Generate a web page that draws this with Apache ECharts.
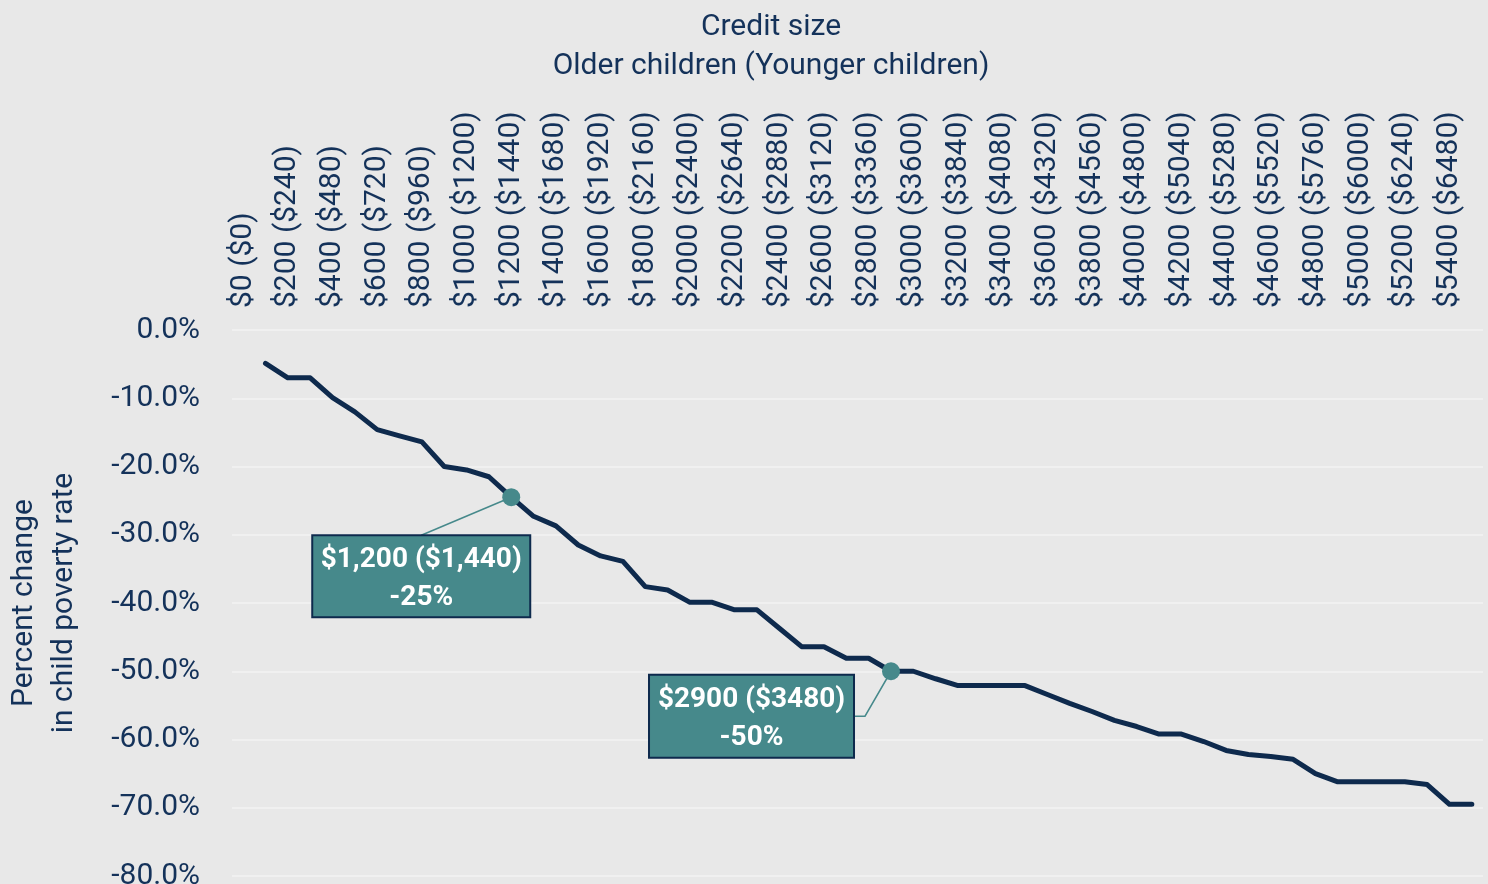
<!DOCTYPE html>
<html>
<head>
<meta charset="utf-8">
<script src="https://cdn.jsdelivr.net/npm/echarts@6/dist/echarts.min.js"></script>
<style>
html,body{margin:0;padding:0;background:#e8e8e8;}
#chart{width:1488px;height:884px;}
</style>
</head>
<body>
<div id="chart"></div>
<script>
// ---- DATA ----
const categories = [
  "$0 ($0)","$100 ($120)","$200 ($240)","$300 ($360)","$400 ($480)","$500 ($600)",
  "$600 ($720)","$700 ($840)","$800 ($960)","$900 ($1080)","$1000 ($1200)","$1100 ($1320)",
  "$1200 ($1440)","$1300 ($1560)","$1400 ($1680)","$1500 ($1800)","$1600 ($1920)","$1700 ($2040)",
  "$1800 ($2160)","$1900 ($2280)","$2000 ($2400)","$2100 ($2520)","$2200 ($2640)","$2300 ($2760)",
  "$2400 ($2880)","$2500 ($3000)","$2600 ($3120)","$2700 ($3240)","$2800 ($3360)","$2900 ($3480)",
  "$3000 ($3600)","$3100 ($3720)","$3200 ($3840)","$3300 ($3960)","$3400 ($4080)","$3500 ($4200)",
  "$3600 ($4320)","$3700 ($4440)","$3800 ($4560)","$3900 ($4680)","$4000 ($4800)","$4100 ($4920)",
  "$4200 ($5040)","$4300 ($5160)","$4400 ($5280)","$4500 ($5400)","$4600 ($5520)","$4700 ($5640)",
  "$4800 ($5760)","$4900 ($5880)","$5000 ($6000)","$5100 ($6120)","$5200 ($6240)","$5300 ($6360)",
  "$5400 ($6480)","$5500 ($6600)"
];
// percent change in child poverty rate
const povertyChange = [
  null, -4.9, -7.0, -7.0, -9.9, -12.0, -14.6, -15.5, -16.4, -20.0,
  -20.5, -21.5, -24.5, -27.3, -28.7, -31.5, -33.1, -33.9, -37.6, -38.1,
  -39.9, -39.9, -41.0, -41.0, -43.7, -46.4, -46.4, -48.1, -48.1, -50.0,
  -50.0, -51.1, -52.1, -52.1, -52.1, -52.1, -53.4, -54.7, -55.9, -57.2,
  -58.1, -59.2, -59.2, -60.3, -61.6, -62.2, -62.5, -62.9, -65.0, -66.2,
  -66.2, -66.2, -66.2, -66.6, -69.5, -69.5
];
const yMin = -80, yMax = 0, yStep = 10;
const titleLines = ["Credit size", "Older children (Younger children)"];
const yAxisTitle = "Percent change\nin child poverty rate";
const annotations = [
  {category: "$1200 ($1440)", line1: "$1,200 ($1,440)", line2: "-25%"},
  {category: "$2900 ($3480)", line1: "$2900 ($3480)", line2: "-50%"}
];

// ---- STYLE / LAYOUT ----
const NAVY = "#14325a";
const LINE = "#0e2a4d";
const TEAL = "#46898b";
const FONT = "Roboto";
const FS = 30;
const annoLayout = [
  {dx: -90, dy: 79, w: 218, h: 82, leader: [[-90, 38]]},
  {dx: -139.5, dy: 45, w: 205, h: 83, leader: [[-26, 45], [-37, 45]]}
];

const annoData = annotations.map(a => {
  const i = categories.indexOf(a.category);
  return [i, povertyChange[i]];
});

function renderAnno(params, api) {
  const i = params.dataIndex;
  const p = api.coord([api.value(0), api.value(1)]);
  const L = annoLayout[i];
  const a = annotations[i];
  const cx = p[0] + L.dx, cy = p[1] + L.dy;
  const pts = [[p[0], p[1]]].concat(L.leader.map(q => [p[0] + q[0], p[1] + q[1]]));
  return {
    type: 'group',
    children: [
      {type: 'polyline', shape: {points: pts}, style: {stroke: TEAL, lineWidth: 1.5, fill: null}},
      {type: 'rect', shape: {x: cx - L.w / 2, y: cy - L.h / 2, width: L.w, height: L.h},
        style: {fill: TEAL, stroke: LINE, lineWidth: 2}},
      {type: 'text', x: cx, y: cy + 3,
        style: {text: a.line1 + "\n" + a.line2, fill: '#ffffff', fontFamily: FONT, fontWeight: 'bold',
          fontSize: 28, lineHeight: 38, align: 'center', verticalAlign: 'middle'}},
      {type: 'circle', shape: {cx: p[0], cy: p[1], r: 9}, style: {fill: TEAL}}
    ]
  };
}

const chart = echarts.init(document.getElementById('chart'), null, {renderer: 'canvas'});
chart.setOption({
  backgroundColor: '#e8e8e8',
  animation: false,
  textStyle: {fontFamily: FONT},
  graphic: [{
    type: 'text', x: 771, y: 8,
    style: {text: titleLines.join("\n"), fill: NAVY, fontFamily: FONT, fontSize: FS,
      lineHeight: 39, align: 'center', verticalAlign: 'top'}
  }],
  grid: {left: 232, right: 5, top: 330, bottom: 8, containLabel: false, outerBoundsMode: 'none'},
  xAxis: {
    type: 'category', position: 'top', data: categories, boundaryGap: true,
    axisLine: {show: false}, axisTick: {show: false}, splitLine: {show: false},
    axisLabel: {interval: 1, rotate: 90, margin: 22, fontSize: FS, color: NAVY, fontFamily: FONT}
  },
  yAxis: {
    type: 'value', min: yMin, max: yMax, interval: yStep,
    axisLine: {show: false}, axisTick: {show: false},
    splitLine: {lineStyle: {color: '#f3f3f3', width: 1.5}},
    axisLabel: {margin: 32, fontSize: FS, color: NAVY, fontFamily: FONT,
      formatter: v => v.toFixed(1) + '%'},
    name: yAxisTitle, nameLocation: 'middle', nameRotate: 90, nameGap: 148,
    nameTextStyle: {fontSize: FS, lineHeight: 40, color: NAVY, fontFamily: FONT}
  },
  series: [
    {
      type: 'line', data: povertyChange, showSymbol: false, symbol: 'none',
      lineStyle: {color: LINE, width: 5, cap: 'round', join: 'round'}, z: 2
    },
    {
      type: 'custom', data: annoData, renderItem: renderAnno, z: 3, clip: false
    }
  ]
});
</script>
</body>
</html>
